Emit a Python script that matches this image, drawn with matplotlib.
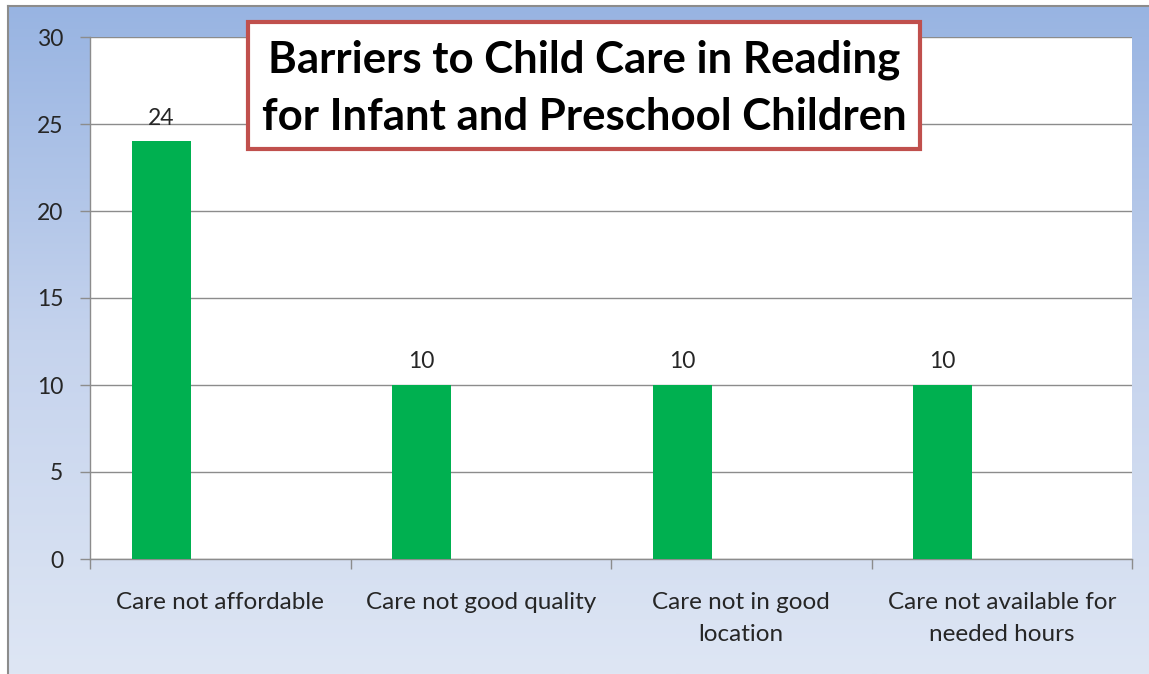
import numpy as np
import matplotlib
matplotlib.use("Agg")
import matplotlib.pyplot as plt
from matplotlib.colors import LinearSegmentedColormap
from matplotlib.patches import Rectangle

categories = ["Care not affordable", "Care not good quality",
              "Care not in good\nlocation", "Care not available for\nneeded hours"]
values = [24, 10, 10, 10]
yticks = [0, 5, 10, 15, 20, 25, 30]
title = "Barriers to Child Care in Reading\nfor Infant and Preschool Children"

W, H = 1149, 674
fig = plt.figure(figsize=(W / 100, H / 100), dpi=100)
fig.patch.set_facecolor("white")
FONT = ["Lato", "DejaVu Sans"]

# background gradient
bg = fig.add_axes([8 / W, 0, 1 - 8 / W, 1 - 6 / H], zorder=0)
cmap = LinearSegmentedColormap.from_list("g", ["#98B4E2", "#C5D3ED", "#DEE6F4"])
grad = np.linspace(0, 1, 256).reshape(-1, 1)
bg.imshow(grad, aspect="auto", cmap=cmap, extent=[0, 1, 0, 1], origin="upper")
bg.set_xlim(0, 1); bg.set_ylim(0, 1)
bg.set_xticks([]); bg.set_yticks([])
for s in ["right", "bottom"]:
    bg.spines[s].set_visible(False)
for s in ["left", "top"]:
    bg.spines[s].set_color("#8C8C8C")
    bg.spines[s].set_linewidth(1.5)

left, right, top, bottom = 90, 1132, 37, 559
ax = fig.add_axes([left / W, 1 - bottom / H, (right - left) / W, (bottom - top) / H], zorder=1)
ax.set_facecolor("white")
x = np.arange(len(categories))
bw = 59 / 260.5
ax.bar(x - bw, values, width=bw, color="#00B050", zorder=3)
ax.set_xlim(-0.5, len(categories) - 0.5)
ax.set_ylim(0, 30)
ax.set_yticks(yticks)
ax.yaxis.grid(True, color="#8C8C8C", linewidth=1.0, zorder=0)
ax.set_axisbelow(True)
for s in ["right", "top"]:
    ax.spines[s].set_visible(False)
for s in ["left", "bottom"]:
    ax.spines[s].set_color("#8C8C8C")
    ax.spines[s].set_linewidth(1.0)
ax.tick_params(axis="y", length=7.2, color="#8C8C8C", width=1.0, pad=12,
               labelsize=16.5, labelcolor="#262626")
ax.set_xticks(np.arange(len(categories) + 1) - 0.5, minor=False)
ax.set_xticklabels([])
ax.tick_params(axis="x", which="major", length=7, color="#8C8C8C", width=1.0)
ax.set_xticks(x, minor=True)
ax.set_xticklabels(categories, minor=True)
ax.tick_params(axis="x", which="minor", length=0, pad=24, labelsize=17.5,
               labelcolor="#262626")
for lbl in ax.get_yticklabels() + ax.get_xticklabels(minor=True):
    lbl.set_family(FONT)
for lbl in ax.get_xticklabels(minor=True):
    lbl.set_linespacing(1.6)
for xi, v in zip(x, values):
    ax.annotate(str(v), (xi - bw, v), xytext=(0, 9), textcoords="offset points",
                ha="center", va="bottom", fontsize=16.5, color="#262626",
                family=FONT)

# title box
tx0, ty0, tx1, ty1 = 248, 22, 920, 149
fig.patches.append(Rectangle((tx0 / W, 1 - ty1 / H), (tx1 - tx0) / W, (ty1 - ty0) / H,
                             transform=fig.transFigure, facecolor="white",
                             edgecolor="#C0504D", linewidth=3, zorder=5))
fig.text((tx0 + tx1) / 2 / W, 1 - (ty0 + ty1 + 6) / 2 / H, title, ha="center", va="center",
         fontsize=31.5, fontweight="bold", family=FONT,
         color="black", linespacing=1.5, zorder=6)

fig.savefig("out.png", dpi=100)
